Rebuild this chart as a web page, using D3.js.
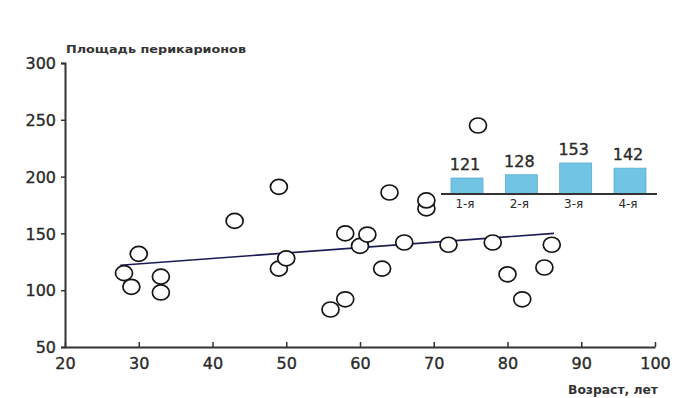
<!DOCTYPE html>
<html>
<head>
<meta charset="utf-8">
<script src="https://cdn.jsdelivr.net/npm/d3@7"></script>
<style>
  html, body { margin: 0; padding: 0; background: #fff; }
  svg { display: block; }
  text { font-family: "DejaVu Sans", sans-serif; fill: #2a2a2a; }
  .num { stroke: #2a2a2a; stroke-width: 0.35px; }
</style>
</head>
<body>
<svg id="chart" width="674" height="398"></svg>
<script>
// Scatter: perikaryon area vs. age
const ages  = [28, 29, 30, 33, 33, 43, 49, 49, 50, 56, 58, 58, 60, 61, 63, 64, 66, 69, 69, 72, 76, 78, 80, 82, 85, 86];
const areas = [115, 103, 132, 112, 98, 161, 191, 119, 128, 83, 92, 150, 139, 149, 119, 186, 142, 172, 179, 140, 245, 142, 114, 92, 120, 140];

// Linear trend endpoints
const trendAges   = [27.5, 86.3];
const trendValues = [122, 150];

// Axis ticks
const xTicks = [20, 30, 40, 50, 60, 70, 80, 90, 100];
const yTicks = [50, 100, 150, 200, 250, 300];

// Inset: mean area by group
const groups     = ["1-я", "2-я", "3-я", "4-я"];
const groupMeans = [121, 128, 153, 142];

const svg = d3.select("#chart");

const x = d3.scaleLinear().domain([20, 100]).range([65, 655]);
const y = d3.scaleLinear().domain([50, 300]).range([347, 63]);

// Y axis
const yAxis = svg.append("g")
  .attr("transform", `translate(${x(20)},0)`)
  .call(d3.axisLeft(y).tickValues(yTicks).tickSize(4).tickPadding(5));
yAxis.select(".domain").attr("stroke", "#333").attr("stroke-width", 2);
yAxis.selectAll(".tick line").attr("stroke", "#333").attr("stroke-width", 1.5);
yAxis.selectAll(".tick text")
  .attr("class", "num")
  .style("font-size", "16px").attr("fill", "#2a2a2a").attr("dy", "0.36em");

// X axis (ticks point up into the plot)
const xAxis = svg.append("g")
  .attr("transform", `translate(0,${y(50)})`)
  .call(d3.axisBottom(x).tickValues(xTicks).tickSizeInner(-5).tickSizeOuter(0).tickPadding(11));
xAxis.select(".domain").attr("stroke", "#333").attr("stroke-width", 2);
xAxis.selectAll(".tick line").attr("stroke", "#333").attr("stroke-width", 1.5);
xAxis.selectAll(".tick text")
  .attr("class", "num")
  .style("font-size", "16px").attr("fill", "#2a2a2a");

// Axis titles
svg.append("text")
  .attr("x", 66).attr("y", 53)
  .attr("textLength", 180).attr("lengthAdjust", "spacingAndGlyphs")
  .style("font-size", "11px").style("font-weight", "bold")
  .style("fill", "#333")
  .text("Площадь перикарионов");

svg.append("text")
  .attr("x", 568).attr("y", 394)
  .attr("textLength", 90).attr("lengthAdjust", "spacingAndGlyphs")
  .style("font-size", "12px").style("font-weight", "bold")
  .style("fill", "#333")
  .text("Возраст, лет");

// Trend line
svg.append("path")
  .datum(trendAges.map((a, i) => [a, trendValues[i]]))
  .attr("d", d3.line().x(d => x(d[0])).y(d => y(d[1])))
  .attr("fill", "none")
  .attr("stroke", "#1c1c55")
  .attr("stroke-width", 1.6);

// Points
svg.append("g")
  .selectAll("ellipse")
  .data(ages.map((a, i) => ({ age: a, area: areas[i] })))
  .join("ellipse")
  .attr("cx", d => x(d.age))
  .attr("cy", d => y(d.area))
  .attr("rx", 8.5)
  .attr("ry", 7.5)
  .attr("fill", "#fff")
  .attr("stroke", "#151515")
  .attr("stroke-width", 1.7);

// Inset bar chart
const bx = d3.scalePoint().domain(groups).range([467, 630]);
const by = d3.scaleLinear().domain([87, 153]).range([194, 163]);
const barW = 32;

const inset = svg.append("g");
inset.selectAll("rect")
  .data(groups.map((g, i) => ({ g, v: groupMeans[i] })))
  .join("rect")
  .attr("x", d => bx(d.g) - barW / 2)
  .attr("y", d => by(d.v))
  .attr("width", barW)
  .attr("height", d => by(87) - by(d.v))
  .attr("fill", "#72c4e4")
  .attr("stroke", "#5aaed0")
  .attr("stroke-width", 0.8);

inset.append("line")
  .attr("x1", 441).attr("x2", 657)
  .attr("y1", by(87)).attr("y2", by(87))
  .attr("stroke", "#333").attr("stroke-width", 1.8);

inset.selectAll("text.val")
  .data(groups.map((g, i) => ({ g, v: groupMeans[i] })))
  .join("text")
  .attr("class", "val num")
  .attr("x", d => bx(d.g) - 2)
  .attr("y", d => by(d.v) - 8)
  .attr("text-anchor", "middle")
  .style("font-size", "16px")
  .text(d => d.v);

inset.selectAll("text.cat")
  .data(groups)
  .join("text")
  .attr("class", "cat")
  .attr("x", d => bx(d) - 2)
  .attr("y", by(87) + 14)
  .attr("text-anchor", "middle")
  .style("font-size", "12px")
  .text(d => d);
</script>
</body>
</html>
